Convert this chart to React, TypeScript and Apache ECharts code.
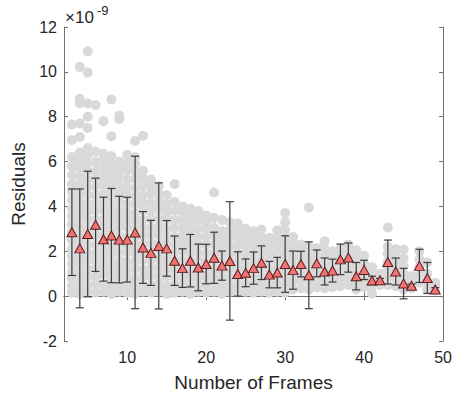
import React, { useEffect, useRef } from "react";
import * as echarts from "echarts";

// Number of frames (x positions of the summary markers)
const frames = [3, 4, 5, 6, 7, 8, 9, 10, 11, 12, 13, 14, 15, 16, 17, 18, 19, 20, 21, 22, 23, 24, 25, 26,
  27, 28, 29, 30, 31, 32, 33, 34, 35, 36, 37, 38, 39, 40, 41, 42, 43, 44, 45, 46, 47, 48, 49];

// Mean residual per frame count (×1e-9)
const meanResidual = [2.85, 2.13, 2.77, 3.18, 2.54, 2.70, 2.52, 2.52, 2.84, 2.17, 1.93, 2.24, 2.13, 1.58,
  1.25, 1.58, 1.28, 1.43, 1.71, 1.36, 1.57, 0.99, 1.04, 1.25, 1.49, 0.96, 1.05, 1.43, 1.16, 1.43, 0.93,
  1.46, 1.10, 1.14, 1.64, 1.72, 0.89, 1.17, 0.70, 0.71, 1.52, 1.10, 0.56, 0.46, 1.35, 0.81, 0.30];

// Standard deviation (error bar half-length, ×1e-9)
const stdResidual = [1.93, 2.65, 2.80, 2.08, 1.87, 2.10, 1.93, 1.89, 3.40, 1.60, 1.45, 2.81, 1.24, 1.10,
  0.86, 1.17, 1.04, 0.88, 1.14, 0.65, 2.64, 0.99, 0.62, 0.72, 0.75, 0.59, 0.68, 1.26, 0.85, 0.57, 1.49,
  0.60, 0.60, 0.51, 0.68, 0.65, 0.61, 0.43, 0.19, 0.08, 0.98, 0.60, 0.68, 0.08, 0.74, 0.69, 0.08];

// Individual residual samples per frame count (×1e-9), same order as frames
const sampleResiduals: number[][] = [
  [0.15, 0.45, 0.8, 1.1, 1.45, 1.8, 2.1, 2.5, 2.85, 3.2, 3.55, 3.9, 4.3, 4.65, 5.0, 5.4, 5.8, 6.2, 6.95, 7.65],
  [0.1, 0.4, 0.75, 1.05, 1.4, 1.7, 2.05, 2.4, 2.8, 3.1, 3.5, 3.85, 4.2, 4.6, 4.95, 5.3, 5.7, 6.05, 6.4, 7.1, 7.7, 8.6, 8.8, 10.22],
  [0.2, 0.5, 0.9, 1.2, 1.6, 1.95, 2.3, 2.65, 3.0, 3.4, 3.75, 4.1, 4.5, 4.85, 5.2, 5.55, 5.95, 6.3, 6.6, 7.5, 8.0, 8.59, 9.97, 10.92],
  [0.15, 0.55, 0.85, 1.25, 1.6, 1.9, 2.3, 2.7, 3.05, 3.4, 3.8, 4.15, 4.5, 4.9, 5.25, 5.6, 6.0, 6.45, 8.52],
  [0.2, 0.5, 0.95, 1.3, 1.65, 2.0, 2.35, 2.75, 3.1, 3.45, 3.85, 4.2, 4.55, 4.95, 5.3, 5.7, 6.05, 6.35, 7.8],
  [0.1, 0.45, 0.8, 1.15, 1.5, 1.9, 2.25, 2.6, 2.95, 3.35, 3.7, 4.05, 4.45, 4.8, 5.15, 5.55, 5.9, 6.25, 7.13, 8.77],
  [0.2, 0.55, 0.9, 1.25, 1.6, 2.0, 2.35, 2.7, 3.1, 3.45, 3.8, 4.2, 4.55, 4.9, 5.3, 5.65, 6.0, 7.9, 8.05],
  [0.15, 0.5, 0.85, 1.2, 1.55, 1.95, 2.3, 2.65, 3.05, 3.4, 3.75, 4.1, 4.5, 4.85, 5.2, 5.6, 5.95, 6.3],
  [0.1, 0.45, 0.8, 1.2, 1.55, 1.9, 2.25, 2.6, 3.0, 3.35, 3.7, 4.1, 4.45, 4.8, 5.2, 5.55, 5.9, 6.2, 6.92],
  [0.2, 0.5, 0.85, 1.2, 1.6, 1.95, 2.3, 2.7, 3.05, 3.4, 3.8, 4.15, 4.5, 4.9, 5.25, 5.6, 7.15],
  [0.15, 0.5, 0.9, 1.25, 1.6, 1.95, 2.35, 2.7, 3.05, 3.45, 3.8, 4.15, 4.55, 4.9, 5.2],
  [0.2, 0.55, 0.9, 1.25, 1.65, 2.0, 2.35, 2.75, 3.1, 3.45, 3.85, 4.2, 4.55, 4.9],
  [0.1, 0.45, 0.85, 1.2, 1.55, 1.9, 2.3, 2.65, 3.0, 3.4, 3.75, 4.1, 4.5],
  [0.15, 0.5, 0.85, 1.2, 1.6, 1.95, 2.3, 2.65, 3.05, 3.4, 3.8, 4.2, 5.0],
  [0.2, 0.55, 0.9, 1.25, 1.6, 2.0, 2.35, 2.7, 3.05, 3.4, 3.75, 4.0],
  [0.1, 0.45, 0.8, 1.15, 1.55, 1.9, 2.25, 2.6, 2.95, 3.3, 3.65, 3.9],
  [0.2, 0.5, 0.85, 1.25, 1.6, 1.95, 2.3, 2.65, 3.0, 3.4, 3.8],
  [0.15, 0.5, 0.85, 1.2, 1.55, 1.9, 2.3, 2.65, 3.0, 3.3, 3.6],
  [0.2, 0.55, 0.9, 1.25, 1.6, 1.95, 2.3, 2.7, 3.05, 3.5, 4.62],
  [0.1, 0.45, 0.8, 1.15, 1.5, 1.85, 2.2, 2.55, 2.9, 3.4],
  [0.2, 0.5, 0.85, 1.2, 1.55, 1.9, 2.25, 2.6, 2.95, 3.3],
  [0.15, 0.5, 0.85, 1.2, 1.55, 1.9, 2.25, 2.6, 2.9, 3.24],
  [0.2, 0.55, 0.9, 1.25, 1.6, 1.95, 2.3, 2.65, 3.0],
  [0.15, 0.5, 0.85, 1.2, 1.55, 1.9, 2.25, 2.55, 2.9],
  [0.2, 0.55, 0.9, 1.25, 1.6, 1.95, 2.3, 2.6, 2.97],
  [0.15, 0.5, 0.85, 1.2, 1.55, 1.9, 2.25, 2.6],
  [0.2, 0.55, 0.9, 1.25, 1.6, 1.95, 2.3, 2.6, 2.94],
  [0.15, 0.5, 0.85, 1.2, 1.55, 1.9, 2.25, 2.6, 2.95, 3.3, 3.71],
  [0.3, 0.65, 1.0, 1.35, 1.7, 2.05, 2.35, 2.64],
  [0.35, 0.7, 1.05, 1.4, 1.75, 2.05, 2.3],
  [0.3, 0.65, 1.0, 1.35, 1.7, 2.0, 2.2, 3.95],
  [0.4, 0.75, 1.1, 1.45, 1.8, 2.15],
  [0.35, 0.7, 1.05, 1.4, 1.75, 2.1, 2.45],
  [0.4, 0.75, 1.1, 1.45, 1.75, 2.0],
  [0.45, 0.8, 1.15, 1.5, 1.8, 2.1],
  [0.5, 0.85, 1.2, 1.55, 1.9, 2.3],
  [0.3, 0.65, 1.0, 1.35, 1.7, 2.05],
  [0.4, 0.75, 1.1, 1.45, 1.8],
  [0.12, 0.45, 0.8, 1.1, 1.3],
  [0.5, 0.75, 1.0],
  [0.5, 0.85, 1.2, 1.55, 1.9, 2.2, 3.06],
  [0.45, 0.8, 1.15, 1.5, 1.8, 2.1],
  [0.3, 0.65, 1.0, 1.35, 1.7, 2.08],
  [0.35, 0.6, 0.9],
  [0.6, 0.95, 1.3, 1.65, 2.0],
  [0.3, 0.65, 1.0, 1.5],
  [0.25, 0.45, 0.6],
];

const xTicks = [10, 20, 30, 40, 50];
const xRange = [2, 50];
const yRange = [-2, 12];
const yStep = 2;

const FONT = "'Liberation Sans', Arial, Helvetica, sans-serif";
const AXIS_COLOR = "#707070";
const TEXT_COLOR = "#262626";

export default function App() {
  const ref = useRef<HTMLDivElement>(null);

  useEffect(() => {
    if (!ref.current) return;
    const chart = echarts.init(ref.current, null, { renderer: "svg" });

    const scatterData: number[][] = [];
    frames.forEach((f, i) => {
      sampleResiduals[i].forEach((v) => scatterData.push([f, v]));
    });
    const meanData = frames.map((f, i) => [f, meanResidual[i]]);
    const errData = frames.map((f, i) => [f, meanResidual[i] - stdResidual[i], meanResidual[i] + stdResidual[i]]);

    const axisLine = { show: true, lineStyle: { color: AXIS_COLOR, width: 1 } };

    chart.setOption({
      animation: false,
      backgroundColor: "#ffffff",
      textStyle: { fontFamily: FONT },
      title: [
        {
          text: "×10",
          left: 65,
          top: 9,
          padding: 0,
          textStyle: { fontSize: 17, fontWeight: "normal", color: TEXT_COLOR, fontFamily: FONT },
        },
        {
          text: "-9",
          left: 97,
          top: 4,
          padding: 0,
          textStyle: { fontSize: 13, fontWeight: "normal", color: TEXT_COLOR, fontFamily: FONT },
        },
      ],
      grid: { left: 64, right: 10, top: 27, bottom: 57, containLabel: false },
      xAxis: [
        {
          type: "value",
          min: xRange[0],
          max: xRange[1],
          position: "bottom",
          axisLine,
          axisTick: { show: true, inside: true, length: 4, customValues: xTicks, lineStyle: { color: AXIS_COLOR } },
          axisLabel: { customValues: xTicks, fontSize: 16, color: TEXT_COLOR, margin: 8, fontFamily: FONT },
          splitLine: { show: false },
          name: "Number of Frames",
          nameLocation: "middle",
          nameGap: 32,
          nameTextStyle: { fontSize: 19, color: TEXT_COLOR, fontFamily: FONT },
        },
        {
          type: "value",
          min: xRange[0],
          max: xRange[1],
          position: "top",
          axisLine,
          axisTick: { show: true, inside: true, length: 4, customValues: xTicks, lineStyle: { color: AXIS_COLOR } },
          axisLabel: { show: false },
          splitLine: { show: false },
        },
      ],
      yAxis: [
        {
          type: "value",
          min: yRange[0],
          max: yRange[1],
          interval: yStep,
          position: "left",
          axisLine,
          axisTick: { show: true, inside: true, length: 4, lineStyle: { color: AXIS_COLOR } },
          axisLabel: { fontSize: 16, color: TEXT_COLOR, margin: 7, fontFamily: FONT },
          splitLine: { show: false },
          name: "Residuals",
          nameLocation: "middle",
          nameGap: 35,
          nameTextStyle: { fontSize: 19, color: TEXT_COLOR, fontFamily: FONT },
        },
        {
          type: "value",
          min: yRange[0],
          max: yRange[1],
          interval: yStep,
          position: "right",
          axisLine,
          axisTick: { show: true, inside: true, length: 4, lineStyle: { color: AXIS_COLOR } },
          axisLabel: { show: false },
          splitLine: { show: false },
        },
      ],
      series: [
        {
          type: "scatter",
          xAxisIndex: 0,
          yAxisIndex: 0,
          data: scatterData,
          symbol: "circle",
          symbolSize: 10,
          itemStyle: { color: "#d9d9d9", opacity: 1 },
          z: 1,
          silent: true,
        },
        {
          type: "custom",
          xAxisIndex: 0,
          yAxisIndex: 0,
          data: errData,
          encode: { x: 0, y: [1, 2] },
          z: 2,
          silent: true,
          renderItem: (params: any, api: any) => {
            const x = api.value(0);
            const lo = api.coord([x, api.value(1)]);
            const hi = api.coord([x, api.value(2)]);
            const cap = 4;
            const style = { stroke: "#3c3c3c", lineWidth: 1.2 };
            return {
              type: "group",
              children: [
                { type: "line", shape: { x1: lo[0], y1: lo[1], x2: hi[0], y2: hi[1] }, style },
                { type: "line", shape: { x1: lo[0] - cap, y1: lo[1], x2: lo[0] + cap, y2: lo[1] }, style },
                { type: "line", shape: { x1: hi[0] - cap, y1: hi[1], x2: hi[0] + cap, y2: hi[1] }, style },
              ],
            };
          },
        },
        {
          type: "scatter",
          xAxisIndex: 0,
          yAxisIndex: 0,
          data: meanData,
          symbol: "triangle",
          symbolSize: [10, 9],
          itemStyle: { color: "#f27373", borderColor: "#5a1e1e", borderWidth: 1, opacity: 1 },
          z: 3,
          silent: true,
        },
      ],
    });

    return () => chart.dispose();
  }, []);

  return (
    <div
      ref={ref}
      style={{ position: "absolute", left: 0, top: 0, width: 455, height: 398, background: "#fff" }}
    />
  );
}
